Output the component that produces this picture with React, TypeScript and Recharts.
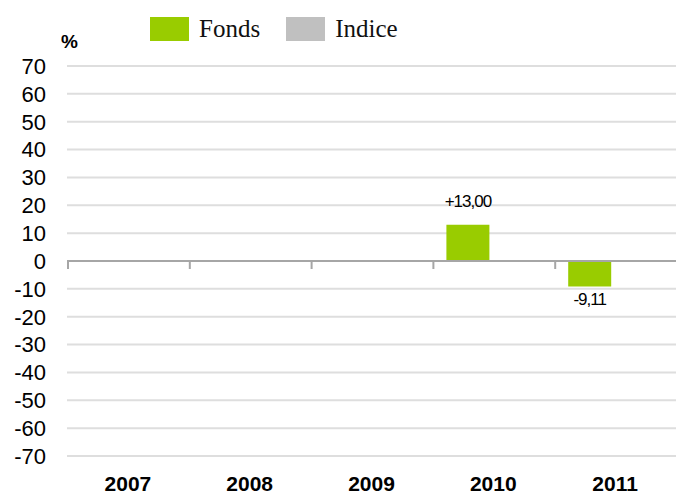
import React from 'react'
import {
  BarChart,
  Bar,
  XAxis,
  YAxis,
  CartesianGrid,
  ReferenceLine,
  LabelList
} from 'recharts'

const years = ['2007', '2008', '2009', '2010', '2011']
const fonds: (number | null)[] = [null, null, null, 13.0, -9.11]
const indice: (number | null)[] = [null, null, null, null, null]
const yTicks = [70, 60, 50, 40, 30, 20, 10, 0, -10, -20, -30, -40, -50, -60, -70]

const GREEN = '#99cc00'
const GREY = '#c0c0c0'

const chartData = years.map((year, i) => ({
  year,
  fonds: fonds[i],
  indice: indice[i]
}))

const fmt = (v: number) => (v > 0 ? '+' : '') + v.toFixed(2).replace('.', ',')

// value label: above positive bars, below negative ones
const ValueLabel = (props: any) => {
  const { x, y, width, height, value } = props
  if (value === null || value === undefined) return null
  const top = Math.min(y, y + height)
  const bottom = Math.max(y, y + height)
  const ly = value >= 0 ? top - 23 : bottom + 13
  return (
    <text
      x={x + width / 2}
      y={ly}
      textAnchor="middle"
      dominantBaseline="central"
      fontFamily="Arial, 'Liberation Sans', sans-serif"
      fontSize={17}
      letterSpacing={-1}
      fill="#000"
    >
      {fmt(value)}
    </text>
  )
}

// zero line with small ticks at the category boundaries
const ZeroLine = (props: any) => {
  const { x1, y1, x2, y2 } = props
  const n = years.length
  const step = (x2 - x1) / n
  return (
    <g>
      <line x1={x1} y1={y1} x2={x2} y2={y2} stroke="#a6a6a6" strokeWidth={2} />
      {years.map((_, i) => (
        <line
          key={i}
          x1={x1 + i * step + 1}
          x2={x1 + i * step + 1}
          y1={y1}
          y2={y1 + 8}
          stroke="#a6a6a6"
          strokeWidth={2}
        />
      ))}
    </g>
  )
}

export default function App() {
  return (
    <div style={{ position: 'absolute', left: 0, top: 0, width: 676, height: 495, background: '#fff' }}>
      {/* legend */}
      <div
        style={{
          position: 'absolute',
          left: 150,
          top: 17,
          display: 'flex',
          alignItems: 'center',
          fontFamily: "'Liberation Serif', 'Times New Roman', serif",
          fontSize: 25,
          color: '#111',
          lineHeight: '24px'
        }}
      >
        <span style={{ display: 'inline-block', width: 39, height: 24, background: GREEN }} />
        <span style={{ marginLeft: 10, marginRight: 26 }}>Fonds</span>
        <span style={{ display: 'inline-block', width: 39, height: 24, background: GREY }} />
        <span style={{ marginLeft: 10 }}>Indice</span>
      </div>
      <div
        style={{
          position: 'absolute',
          left: 61,
          top: 31,
          fontFamily: 'Arial, sans-serif',
          fontWeight: 'bold',
          fontSize: 19
        }}
      >
        %
      </div>
      <BarChart
        width={676}
        height={495}
        data={chartData}
        margin={{ top: 66, right: 0, left: 0, bottom: 0 }}
        barSize={43}
        barGap={7}
      >
        <CartesianGrid vertical={false} stroke="#dedede" strokeWidth={2} />
        <XAxis
          dataKey="year"
          axisLine={false}
          tickLine={false}
          height={39}
          tickMargin={14}
          interval={0}
          tick={{ fill: '#000', fontSize: 21, fontWeight: 'bold', fontFamily: 'Arial, sans-serif' }}
        />
        <YAxis
          domain={[-70, 70]}
          ticks={yTicks}
          interval={0}
          width={67}
          axisLine={false}
          tickLine={false}
          tickMargin={15}
          tick={{ fill: '#000', fontSize: 22, fontFamily: 'Arial, sans-serif' }}
        />
        <Bar dataKey="fonds" name="Fonds" fill={GREEN} isAnimationActive={false}>
          <LabelList dataKey="fonds" content={<ValueLabel />} />
        </Bar>
        <Bar dataKey="indice" name="Indice" fill={GREY} isAnimationActive={false} />
        <ReferenceLine y={0} shape={<ZeroLine />} />
      </BarChart>
    </div>
  )
}
